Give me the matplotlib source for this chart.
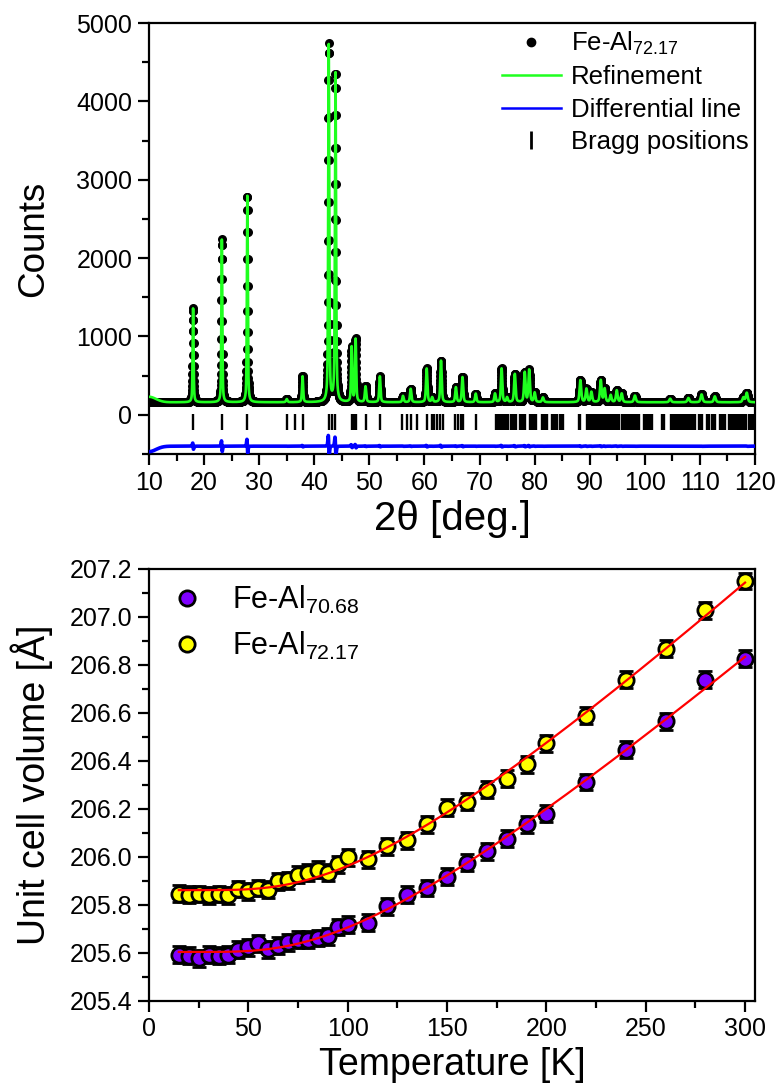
import numpy as np
import matplotlib.pyplot as plt
from matplotlib.ticker import MultipleLocator
from matplotlib.lines import Line2D

plt.rcParams['font.family'] = ['Liberation Sans', 'DejaVu Sans']
plt.rcParams['mathtext.fontset'] = 'custom'
plt.rcParams['mathtext.rm'] = 'Liberation Sans'
plt.rcParams['mathtext.it'] = 'Liberation Sans:italic'

# ---------------- XRD pattern data (Fe-Al72.17) ----------------
tt_start, tt_end, tt_step = 10.0, 120.0, 0.02
background = 160
# low-angle hump only present in the refined curve
calc_hump = (10.0, 70, 3.0)
calc_shift = 0.005
diff_offset = -400

peak_pos = [18.0, 23.22, 27.85, 35.0, 37.87, 42.62, 43.85, 46.78, 47.5, 49.3,
            51.9, 56.1, 57.5, 60.4, 61.4, 63.0, 65.7, 66.9, 69.3, 72.8,
            74.0, 75.0, 76.4, 78.2, 79.0, 80.0, 81.5, 88.3, 89.4, 90.3,
            92.0, 92.7, 93.8, 94.9, 95.8, 98.2, 104.6, 107.9, 110.3, 112.7,
            117.9, 118.5]
peak_height = [1200, 2080, 2640, 40, 330, 4560, 4200, 700, 800, 200,
               330, 80, 170, 430, 60, 530, 190, 320, 110, 110,
               430, 60, 360, 380, 410, 120, 60, 280, 170, 130,
               280, 170, 90, 150, 110, 85, 45, 55, 100, 75,
               60, 120]
peak_fwhm = [0.20, 0.20, 0.20, 0.30, 0.25, 0.22, 0.24, 0.25, 0.25, 0.30,
             0.28, 0.30, 0.30, 0.30, 0.30, 0.30, 0.30, 0.30, 0.30, 0.30,
             0.30, 0.30, 0.32, 0.32, 0.32, 0.32, 0.35, 0.35, 0.35, 0.35,
             0.35, 0.35, 0.35, 0.35, 0.35, 0.40, 0.40, 0.40, 0.40, 0.40,
             0.40, 0.40]

bragg_pos = [18.0, 23.25, 27.85, 35.0, 36.5, 37.9,
             42.6, 43.2, 43.85, 46.8, 47.2, 47.6, 49.3, 51.9,
             56.0, 56.9, 57.6, 58.6, 60.4, 61.3, 61.8, 62.3, 62.8, 63.3,
             65.6, 66.1, 66.6, 67.0, 69.4,
             73.0, 73.3, 73.6, 73.9, 74.2, 74.5, 74.8, 75.1,
             75.8, 76.1, 76.4, 76.7,
             77.3, 77.6, 77.9, 78.2,
             79.1, 79.4, 79.7, 80.0, 80.3,
             81.3, 81.6, 81.9, 82.2,
             83.1, 83.4, 83.7, 84.0,
             84.6, 84.9, 85.2,
             88.0, 88.3,
             89.5, 89.8, 90.1, 90.4, 90.7, 91.0, 91.3, 91.6, 91.9, 92.2,
             92.5, 92.8, 93.1, 93.4, 93.7, 94.0, 94.3, 94.6,
             95.0, 95.3,
             95.9, 96.2, 96.5, 96.8, 97.1, 97.4, 97.7, 98.0, 98.3, 98.6, 98.9,
             99.8, 100.1, 100.4, 100.7, 101.0, 101.3,
             103.1, 103.4,
             104.7, 105.0, 105.3, 105.6, 105.9, 106.2, 106.5, 106.8, 107.1,
             107.4, 107.7, 108.0, 108.3, 108.6, 108.9, 109.1,
             109.8, 110.1, 110.4,
             111.3, 111.6,
             112.2, 112.5, 112.8,
             113.7, 114.0, 114.3, 114.6,
             115.2, 115.5, 115.8, 116.1, 116.4, 116.7, 117.0, 117.3, 117.6,
             118.0, 118.3,
             118.9, 119.2, 119.5, 119.8]

# ---------------- Unit cell volume data ----------------
temps = [15, 20, 25, 30, 35, 40, 45, 50, 55, 60, 65, 70, 75, 80, 85, 90, 95, 100,
         110, 120, 130, 140, 150, 160, 170, 180, 190, 200, 220, 240, 260, 280, 300]
vol_7068 = [205.591, 205.588, 205.577, 205.591, 205.588, 205.591, 205.612, 205.623,
            205.640, 205.615, 205.629, 205.643, 205.654, 205.654, 205.661, 205.668,
            205.707, 205.717, 205.726, 205.793, 205.842, 205.870, 205.917, 205.975,
            206.023, 206.075, 206.135, 206.180, 206.312, 206.446, 206.565, 206.738,
            206.826]
vol_7217 = [205.846, 205.842, 205.845, 205.840, 205.845, 205.840, 205.866, 205.856,
            205.870, 205.863, 205.898, 205.902, 205.926, 205.933, 205.947, 205.933,
            205.968, 205.998, 205.989, 206.044, 206.068, 206.135, 206.204, 206.230,
            206.280, 206.326, 206.386, 206.473, 206.588, 206.738, 206.867, 207.028,
            207.150]
vol_err = 0.035


def profile(x, pos, height, fwhm, shift=0.0):
    y = np.full_like(x, float(background))
    for p, h, w in zip(pos, height, fwhm):
        d = (x - p - shift) / (w / 2)
        y += h * (0.5 / (1 + d ** 2) + 0.5 * np.exp(-np.log(2) * d ** 2))
    return y


def einstein_fit(T, V):
    # least squares fit V = V0 + A * th / (exp(th/T) - 1), grid over th
    T = np.asarray(T, float)
    V = np.asarray(V, float)
    best = None
    for th in np.arange(20, 800, 1.0):
        f = th / np.expm1(th / T)
        M = np.column_stack([np.ones_like(T), f])
        coef, res, *_ = np.linalg.lstsq(M, V, rcond=None)
        r = np.sum((M @ coef - V) ** 2)
        if best is None or r < best[0]:
            best = (r, th, coef)
    _, th, coef = best
    return lambda t: coef[0] + coef[1] * th / np.expm1(th / t)


tt = np.arange(tt_start, tt_end + tt_step / 2, tt_step)
obs = profile(tt, peak_pos, peak_height, peak_fwhm)
calc = profile(tt, peak_pos, peak_height, peak_fwhm, shift=calc_shift)
hp, hh, hw = calc_hump
calc += hh * np.exp(-np.log(2) * ((tt - hp) / (hw / 2)) ** 2)
diff = obs - calc + diff_offset

fig = plt.figure(figsize=(7.79, 10.92), dpi=100)

# ---------------- top panel ----------------
ax1 = fig.add_axes([149 / 779, 1 - 454 / 1092, 606 / 779, 431 / 1092])
ax1.plot(tt, obs, 'o', color='k', ms=6.5, mew=0, zorder=2)
ax1.plot(tt, calc, color='#1fff1f', lw=1.9, zorder=3)
ax1.plot(tt, diff, color='#0000ff', lw=2.6, zorder=3)
ax1.vlines(bragg_pos, -200, 10, color='k', lw=1.7, zorder=3)
ax1.set_xlim(10, 120)
ax1.set_ylim(-500, 5000)
ax1.xaxis.set_major_locator(MultipleLocator(10))
ax1.xaxis.set_minor_locator(MultipleLocator(5))
ax1.yaxis.set_major_locator(MultipleLocator(1000))
ax1.yaxis.set_minor_locator(MultipleLocator(500))
ax1.set_xlabel('2θ [deg.]', fontsize=29, labelpad=4)
ax1.set_ylabel('Counts', fontsize=26.5, labelpad=18)

handles = [Line2D([], [], ls='none', marker='o', color='k', ms=6),
           Line2D([], [], color='#1fff1f', lw=1.8),
           Line2D([], [], color='#0000ff', lw=1.8),
           Line2D([], [], ls='none', marker='|', color='k', ms=13, mew=2)]
labels = [r'Fe-Al$_{\mathregular{72.17}}$', 'Refinement', 'Differential line',
          'Bragg positions']
ax1.legend(handles, labels, loc='upper right', bbox_to_anchor=(1.015, 1.02),
           frameon=False, fontsize=18.5, handlelength=2.3, handletextpad=0.4,
           labelspacing=0.33, borderaxespad=0.2)

# ---------------- bottom panel ----------------
ax2 = fig.add_axes([149 / 779, 1 - 1000.7 / 1092, 606 / 779, 431.7 / 1092])
tfit = np.linspace(min(temps), max(temps), 300)
for vol, col, lab in [(vol_7068, '#8000ff', r'Fe-Al$_{\mathregular{70.68}}$'),
                      (vol_7217, '#ffff00', r'Fe-Al$_{\mathregular{72.17}}$')]:
    ax2.errorbar(temps, vol, yerr=vol_err, fmt='o', mfc=col, mec='k', mew=2,
                 ms=11, ecolor='k', elinewidth=1.5, capsize=5, capthick=1.6,
                 label=lab, zorder=2)
    fit = einstein_fit(temps, vol)
    ax2.plot(tfit, fit(tfit), color='#ff0000', lw=1.6, zorder=4)
ax2.set_xlim(0, 305)
ax2.set_ylim(205.4, 207.2)
ax2.xaxis.set_major_locator(MultipleLocator(50))
ax2.xaxis.set_minor_locator(MultipleLocator(25))
ax2.yaxis.set_major_locator(MultipleLocator(0.2))
ax2.yaxis.set_minor_locator(MultipleLocator(0.1))
ax2.yaxis.set_major_formatter(plt.FormatStrFormatter('%.1f'))
ax2.set_xlabel('Temperature [K]', fontsize=27, labelpad=4)
ax2.set_ylabel('Unit cell volume [Å]', fontsize=27, labelpad=12)
h, l = ax2.get_legend_handles_labels()
h = [hh[0] for hh in h]
ax2.legend(h, l, loc='upper left', bbox_to_anchor=(-0.01, 1.015), frameon=False,
           fontsize=22, handlelength=1.5, handletextpad=0.7, labelspacing=0.45,
           borderaxespad=0.3)

for ax in (ax1, ax2):
    for sp in ax.spines.values():
        sp.set_linewidth(1.6)
    ax.tick_params(which='major', direction='out', length=8, width=1.6,
                   labelsize=18, pad=4)
    ax.tick_params(which='minor', direction='out', length=5, width=1.6)

fig.savefig('out.png', dpi=100)
